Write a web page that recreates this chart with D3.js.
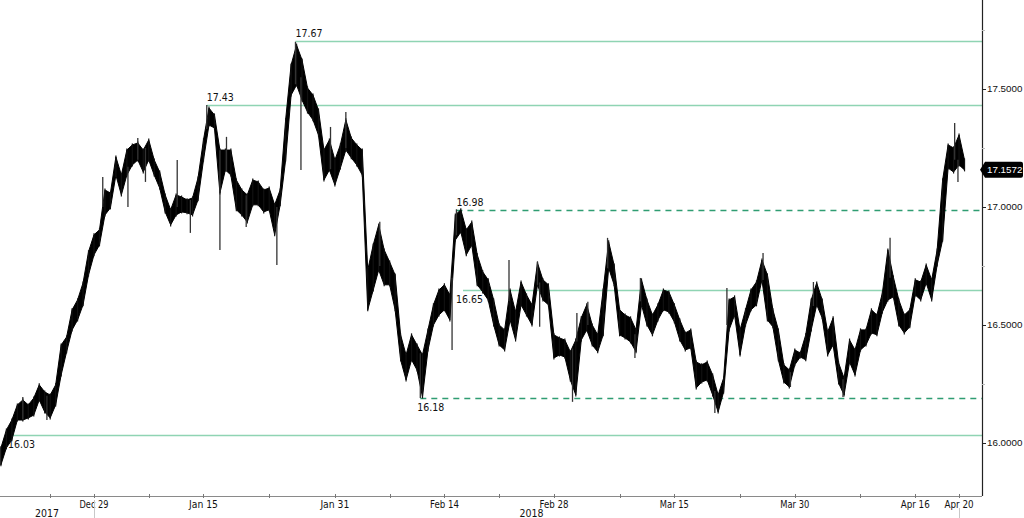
<!DOCTYPE html>
<html>
<head>
<meta charset="utf-8">
<script src="https://cdn.jsdelivr.net/npm/d3@7/dist/d3.min.js"></script>
<style>
  html, body { margin: 0; padding: 0; background: #fff; }
  svg { display: block; }
  text { font-family: "DejaVu Sans", "Liberation Sans", sans-serif; }
  text.narrow { font-family: "Liberation Sans", "DejaVu Sans", sans-serif; }
</style>
</head>
<body>
<svg id="chart" width="1024" height="518"></svg>
<script>
// ---------------- DATA ----------------
// Trading-day calendar (weekdays, holidays removed) starting 2017-12-18
const calendarStart = "2017-12-18";
const holidays = ["2017-12-25", "2018-01-01"];

// Price samples every half trading day, starting half a day before calendarStart
const sampleStartDay = -0.5;
const sampleStep = 0.5;
const seriesHigh = [
  15.979,16.055,16.097,16.161,16.182,16.161,16.190,16.246,16.216,16.203,
  16.246,16.415,16.449,16.564,16.606,16.678,16.810,16.882,16.903,17.072,
  17.059,17.212,17.135,17.241,17.263,17.271,17.241,17.284,17.199,17.148,
  17.051,16.988,17.051,17.042,17.030,17.038,17.123,17.284,17.419,17.390,
  17.241,17.241,17.241,17.114,17.072,17.051,17.114,17.106,17.072,17.080,
  17.009,17.072,17.369,17.602,17.686,17.623,17.504,17.474,17.411,17.241,
  17.284,17.199,17.263,17.369,17.292,17.263,17.241,16.733,16.839,16.924,
  16.818,16.767,16.712,16.458,16.373,16.458,16.415,16.373,16.479,16.585,
  16.648,16.670,16.627,16.966,16.988,16.903,16.936,16.797,16.725,16.691,
  16.606,16.500,16.479,16.648,16.555,16.682,16.627,16.585,16.763,16.691,
  16.670,16.458,16.445,16.436,16.386,16.436,16.530,16.585,16.500,16.458,
  16.648,16.852,16.754,16.564,16.542,16.530,16.479,16.691,16.606,16.542,
  16.585,16.648,16.640,16.585,16.521,16.466,16.479,16.343,16.331,16.343,
  16.288,16.203,16.275,16.606,16.619,16.479,16.564,16.648,16.682,16.775,
  16.712,16.564,16.479,16.331,16.309,16.394,16.381,16.458,16.606,16.678,
  16.606,16.470,16.530,16.339,16.275,16.436,16.394,16.479,16.479,16.564,
  16.542,16.636,16.818,16.703,16.606,16.542,16.564,16.691,16.682,16.754,
  16.691,16.818,17.114,17.263,17.250,17.305,17.199
];
const seriesLow = [
  15.907,15.979,16.013,16.097,16.097,16.106,16.118,16.182,16.131,16.106,
  16.161,16.288,16.386,16.479,16.521,16.585,16.712,16.797,16.839,16.966,
  16.996,17.135,17.051,17.135,17.178,17.199,17.148,17.199,17.135,17.080,
  16.979,16.924,16.966,16.979,16.975,16.966,17.030,17.199,17.347,17.335,
  17.059,17.157,17.135,16.988,16.966,16.936,17.009,17.009,16.979,16.988,
  16.882,17.009,17.199,17.474,17.517,17.453,17.402,17.369,17.305,17.114,
  17.157,17.093,17.165,17.241,17.208,17.178,17.135,16.564,16.648,16.733,
  16.670,16.670,16.564,16.352,16.267,16.352,16.309,16.195,16.394,16.500,
  16.542,16.564,16.521,16.860,16.894,16.797,16.839,16.670,16.640,16.606,
  16.500,16.415,16.394,16.521,16.436,16.585,16.542,16.500,16.670,16.606,
  16.585,16.360,16.373,16.364,16.267,16.203,16.436,16.479,16.415,16.386,
  16.458,16.741,16.670,16.458,16.445,16.428,16.386,16.585,16.500,16.458,
  16.521,16.564,16.555,16.513,16.436,16.394,16.403,16.233,16.258,16.267,
  16.203,16.131,16.216,16.479,16.542,16.373,16.500,16.564,16.585,16.691,
  16.521,16.492,16.352,16.258,16.237,16.331,16.364,16.352,16.479,16.585,
  16.530,16.373,16.415,16.254,16.203,16.343,16.288,16.394,16.415,16.466,
  16.458,16.555,16.606,16.619,16.500,16.466,16.492,16.627,16.606,16.678,
  16.606,16.754,16.860,17.165,17.148,17.178,17.157
];
// Isolated spikes: [trading day, high, low]
const spikes = [
  [1.5,16.195,16.10],[3.7,16.20,16.097],[8.8,17.127,17.00],[11.1,17.17,17.00],
  [12.0,17.292,17.20],[12.7,17.25,17.106],[15.6,17.199,17.00],[16.8,17.03,16.89],
  [18.3,17.432,17.33],[19.5,17.24,16.818],[20.1,17.297,17.15],[21.9,17.05,16.915],
  [24.7,17.00,16.754],[26.4,17.70,17.52],[26.9,17.55,17.157],[29.6,17.339,17.16],
  [31.0,17.402,17.25],[34.1,16.937,16.75],[37.8,16.38,16.19],[40.7,16.70,16.394],
  [41.1,16.99,16.88],[45.9,16.775,16.60],[48.5,16.767,16.67],[48.7,16.68,16.492],
  [51.7,16.40,16.174],[52.1,16.551,16.43],[53.1,16.598,16.50],[54.9,16.869,16.74],
  [57.4,16.46,16.360],[57.9,16.699,16.60],[64.7,16.22,16.127],[65.8,16.657,16.50],
  [69.1,16.805,16.69],[71.6,16.30,16.237],[73.7,16.682,16.58],[76.4,16.27,16.195],
  [80.7,16.869,16.70],[86.6,17.356,17.20],[86.9,17.20,17.106]
];
const lastPrice = 17.1572;

// Horizontal levels
const levelValues = [17.705, 17.43, 16.985, 16.65, 16.19, 16.034];
const levelLabels = ["17.67", "17.43", "16.98", "16.65", "16.18", "16.03"];
const levelStartDays = [26.4, 18.3, 41.1, 41.7, 37.8, 0.6];
const levelDashed = [false, false, true, false, true, false];
const levelLabelBelow = [false, false, false, true, true, true];

// Axis ticks
const yMajorTicks = [16.0, 16.5, 17.0, 17.5];
const yMinorTicks = [16.25, 16.75, 17.25, 17.75];
const xLabelDates = ["2017-12-29","2018-01-15","2018-01-31","2018-02-14","2018-02-28","2018-03-15","2018-03-30","2018-04-16","2018-04-20"];
const xLabelTexts = ["Dec 29","Jan 15","Jan 31","Feb 14","Feb 28","Mar 15","Mar 30","Apr 16","Apr 20"];
const xMinorDates = ["2017-12-22","2018-01-08","2018-01-23","2018-02-07","2018-02-21","2018-03-08","2018-03-23","2018-04-09"];
const yearLabels = ["2017", "2018"];
const yearStarts = ["2017-12-15", "2017-12-29"];
const yearEnds = ["2017-12-29", "2018-04-20"];

// ---------------- HELPERS ----------------
function tradingIndex(dateStr) {
  const start = new Date(calendarStart + "T00:00:00Z");
  const target = new Date(dateStr + "T00:00:00Z");
  let count = 0;
  const d = new Date(start);
  if (target >= start) {
    while (d < target) {
      const wd = d.getUTCDay();
      const iso = d.toISOString().slice(0, 10);
      if (wd !== 0 && wd !== 6 && !holidays.includes(iso)) count++;
      d.setUTCDate(d.getUTCDate() + 1);
    }
  } else {
    while (d > target) {
      d.setUTCDate(d.getUTCDate() - 1);
      const wd = d.getUTCDay();
      if (wd !== 0 && wd !== 6) count--;
    }
  }
  return count;
}

// ---------------- LAYOUT ----------------
const W = 1024, H = 518;
const plotLeft = 0, plotRight = 982, plotTop = 0, plotBottom = 496;

const x = d3.scaleLinear().domain([-0.584, 89.096]).range([plotLeft, plotRight]);
const y = d3.scaleLinear().domain([15.775, 17.877]).range([plotBottom, plotTop]);

const svg = d3.select("#chart");

// Levels
const levelColorSolid = "#8fd4b3";
const levelColorDash = "#2f9d72";
const levels = levelValues.map((v, i) => ({
  v, label: levelLabels[i], d0: levelStartDays[i], dashed: levelDashed[i], below: levelLabelBelow[i]
}));

svg.append("g").selectAll("line").data(levels).join("line")
  .attr("x1", d => x(d.d0)).attr("x2", plotRight)
  .attr("y1", d => Math.round(y(d.v)) + 0.5).attr("y2", d => Math.round(y(d.v)) + 0.5)
  .attr("stroke", d => d.dashed ? levelColorDash : levelColorSolid)
  .attr("stroke-width", 1.3)
  .attr("stroke-dasharray", d => d.dashed ? "6,5" : null);

// Price data
const series = seriesHigh.map((h, i) => ({ d: sampleStartDay + i * sampleStep, hi: h, lo: seriesLow[i] }));

const area = d3.area()
  .x(d => x(d.d)).y0(d => y(d.lo)).y1(d => y(d.hi))
  .curve(d3.curveLinear);

svg.append("path").datum(series)
  .attr("d", area)
  .attr("fill", "#000")
  .attr("stroke", "#000")
  .attr("stroke-width", 1)
  .attr("stroke-linejoin", "round");

// vertical bars for texture
svg.append("g").selectAll("line").data(series).join("line")
  .attr("x1", d => x(d.d)).attr("x2", d => x(d.d))
  .attr("y1", d => y(d.hi) - 1.5).attr("y2", d => y(d.lo) + 1.5)
  .attr("stroke", "#111").attr("stroke-width", 1.2);

svg.append("g").selectAll("line").data(spikes).join("line")
  .attr("x1", d => x(d[0])).attr("x2", d => x(d[0]))
  .attr("y1", d => y(d[1])).attr("y2", d => y(d[2]))
  .attr("stroke", "#333").attr("stroke-width", 1.3);

// Level labels
const labelOffsetX = { "16.65": -7, "16.03": -5, "16.18": -3 };
svg.append("g").selectAll("text").data(levels).join("text")
  .attr("x", d => x(d.d0) + (labelOffsetX[d.label] || 0))
  .attr("y", d => y(d.v) + (d.below ? 13 : -4))
  .attr("font-size", 11)
  .attr("textLength", 27).attr("lengthAdjust", "spacingAndGlyphs")
  .attr("fill", "#111")
  .text(d => d.label);

// Right axis
const gy = svg.append("g");
gy.append("line").attr("x1", plotRight + 0.5).attr("x2", plotRight + 0.5)
  .attr("y1", 0).attr("y2", plotBottom).attr("stroke", "#222").attr("stroke-width", 1.2);
gy.selectAll(".maj").data(yMajorTicks).join("line").attr("class", "maj")
  .attr("x1", plotRight).attr("x2", plotRight + 4)
  .attr("y1", d => Math.round(y(d)) + 0.5).attr("y2", d => Math.round(y(d)) + 0.5)
  .attr("stroke", "#222");
gy.selectAll(".min").data(yMinorTicks).join("line").attr("class", "min")
  .attr("x1", plotRight).attr("x2", plotRight + 3)
  .attr("y1", d => Math.round(y(d)) + 0.5).attr("y2", d => Math.round(y(d)) + 0.5)
  .attr("stroke", "#bbb");
gy.selectAll("text").data(yMajorTicks).join("text")
  .attr("class", "narrow")
  .attr("x", plotRight + 5).attr("y", d => y(d) + 3.5)
  .attr("font-size", 9.8).attr("fill", "#111")
  .text(d => d3.format(".4f")(d));

// Last price tag
const ly = y(lastPrice);
const tag = svg.append("g");
tag.append("path")
  .attr("d", `M${plotRight - 2},${ly} L${plotRight + 3},${ly - 8} L${W - 3},${ly - 8} Q${W - 1},${ly - 8} ${W - 1},${ly - 6} L${W - 1},${ly + 6} Q${W - 1},${ly + 8} ${W - 3},${ly + 8} L${plotRight + 3},${ly + 8} Z`)
  .attr("fill", "#000");
tag.append("text").attr("class", "narrow")
  .attr("x", plotRight + 5).attr("y", ly + 3.5)
  .attr("font-size", 9.8).attr("fill", "#fff")
  .text(d3.format(".4f")(lastPrice));

// Bottom axis
const gx = svg.append("g");
gx.append("line").attr("x1", 0).attr("x2", plotRight)
  .attr("y1", plotBottom + 0.5).attr("y2", plotBottom + 0.5)
  .attr("stroke", "#8a8a8a").attr("stroke-width", 1.2);
const allTicks = xLabelDates.concat(xMinorDates).map(tradingIndex);
gx.selectAll(".tk").data(allTicks).join("line").attr("class", "tk")
  .attr("x1", d => Math.round(x(d)) + 0.5).attr("x2", d => Math.round(x(d)) + 0.5)
  .attr("y1", plotBottom - 2).attr("y2", plotBottom + 2)
  .attr("stroke", "#777");
gx.selectAll(".lbl").data(xLabelDates).join("text").attr("class", "lbl")
  .attr("x", d => x(tradingIndex(d))).attr("y", plotBottom + 12)
  .attr("text-anchor", "middle").attr("font-size", 10.5).attr("fill", "#111")
  .attr("textLength", 29).attr("lengthAdjust", "spacingAndGlyphs")
  .text((d, i) => xLabelTexts[i]);

// Year separators and labels
const sepDates = [yearEnds[0], yearEnds[1]];
gx.selectAll(".sep").data(sepDates).join("line").attr("class", "sep")
  .attr("x1", d => Math.round(x(tradingIndex(d))) + 0.5).attr("x2", d => Math.round(x(tradingIndex(d))) + 0.5)
  .attr("y1", (d, i) => i === 0 ? plotBottom + 4 : plotBottom + 12).attr("y2", H)
  .attr("stroke", "#c8c8c8");
gx.selectAll(".yr").data(yearLabels).join("text").attr("class", "yr")
  .attr("x", (d, i) => (Math.max(0, x(tradingIndex(yearStarts[i]))) + x(tradingIndex(yearEnds[i]))) / 2 + (i === 1 ? 5 : 0))
  .attr("y", plotBottom + 21)
  .attr("text-anchor", "middle").attr("font-size", 10.5).attr("fill", "#111")
  .attr("textLength", 24).attr("lengthAdjust", "spacingAndGlyphs")
  .text(d => d);
</script>
</body>
</html>
